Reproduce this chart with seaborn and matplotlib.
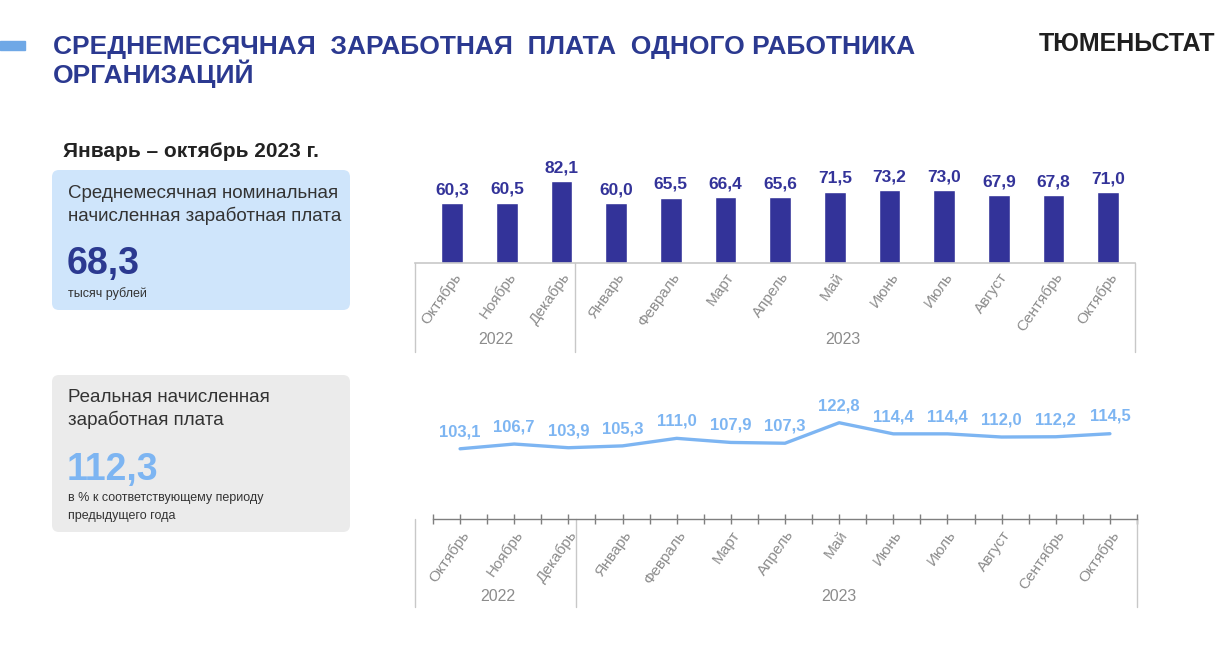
import matplotlib
matplotlib.use("Agg")
import matplotlib.pyplot as plt
import matplotlib.transforms as mtransforms
from matplotlib.patches import FancyBboxPatch, Rectangle
import seaborn as sns
import pandas as pd

# ---------------- data ----------------
months = ["Октябрь", "Ноябрь", "Декабрь", "Январь", "Февраль", "Март", "Апрель",
          "Май", "Июнь", "Июль", "Август", "Сентябрь", "Октябрь"]
years = [2022, 2022, 2022, 2023, 2023, 2023, 2023, 2023, 2023, 2023, 2023, 2023, 2023]
nominal_wage = [60.3, 60.5, 82.1, 60.0, 65.5, 66.4, 65.6, 71.5, 73.2, 73.0, 67.9, 67.8, 71.0]
real_wage = [103.1, 106.7, 103.9, 105.3, 111.0, 107.9, 107.3, 122.8, 114.4, 114.4, 112.0, 112.2, 114.5]
year_labels = ["2022", "2023"]

title_lines = ["СРЕДНЕМЕСЯЧНАЯ  ЗАРАБОТНАЯ  ПЛАТА  ОДНОГО РАБОТНИКА", "ОРГАНИЗАЦИЙ"]
brand_text = "ТЮМЕНЬСТАТ"
period_text = "Январь – октябрь 2023 г."
nominal_caption = ["Среднемесячная номинальная", "начисленная заработная плата"]
nominal_total = "68,3"
nominal_unit = "тысяч рублей"
real_caption = ["Реальная начисленная", "заработная плата"]
real_total = "112,3"
real_unit = ["в % к соответствующему периоду", "предыдущего года"]

# ---------------- style ----------------
sns.set_theme(style="white")
NARROW = ["Liberation Sans Narrow", "Liberation Sans", "DejaVu Sans"]
SANS = ["Liberation Sans", "DejaVu Sans"]
plt.rcParams["font.family"] = SANS

BAR_C = "#333399"
LINE_C = "#7DB5F2"
TITLE_C = "#2B3990"
GRAY = "#8C8C8C"
SEP = "#C8C8C8"
TXT = "#333333"

def fmt(v):
    return f"{v:.1f}".replace(".", ",")

df = pd.DataFrame({
    "key": [f"{m} {y}" for m, y in zip(months, years)],
    "idx": list(range(len(months))),
    "month": months,
    "year": years,
    "nominal": nominal_wage,
    "real": real_wage,
})

W, H = 1223, 648
fig = plt.figure(figsize=(W / 100, H / 100), dpi=100)
fig.patch.set_facecolor("white")
T = fig.dpi_scale_trans

def P(x, y):
    return (x / 100, (H - y) / 100)

def txt(x, y, s, **kw):
    fig.text(*P(x, y), s, transform=T, va="baseline", **kw)

# ---------------- header ----------------
fig.patches.append(Rectangle(P(0, 50), 0.25, 0.09, transform=T, color="#6FA8E6",
                             figure=fig))
txt(53, 54, title_lines[0], fontsize=19, fontweight="bold", color=TITLE_C, family=NARROW)
txt(53, 83, title_lines[1], fontsize=19, fontweight="bold", color=TITLE_C, family=NARROW)
txt(1215, 51, brand_text, fontsize=18, fontweight="bold", color="#1F1F1F",
    family=SANS, ha="right")
txt(63, 157, period_text, fontsize=15, fontweight="bold", color="#222222")

# ---------------- boxes ----------------
def box(x0, y0, x1, y1, color):
    p = FancyBboxPatch(P(x0, y1), (x1 - x0) / 100, (y1 - y0) / 100,
                       boxstyle="round,pad=0,rounding_size=0.07",
                       transform=T, facecolor=color, edgecolor="none", figure=fig)
    fig.patches.append(p)

box(52, 170, 350, 310, "#CFE5FB")
box(52, 375, 350, 532, "#EBEBEB")

txt(68, 198, nominal_caption[0], fontsize=13.5, color=TXT)
txt(68, 221, nominal_caption[1], fontsize=13.5, color=TXT)
txt(67, 274, nominal_total, fontsize=27, fontweight="bold", color=TITLE_C)
txt(68, 297, nominal_unit, fontsize=9, color=TXT)

txt(68, 402, real_caption[0], fontsize=13.5, color=TXT)
txt(68, 425, real_caption[1], fontsize=13.5, color=TXT)
txt(67, 480, real_total, fontsize=27, fontweight="bold", color=LINE_C)
txt(68, 501, real_unit[0], fontsize=9, color=TXT)
txt(68, 519, real_unit[1], fontsize=9, color=TXT)

# ---------------- bar chart ----------------
ax1 = fig.add_axes([415 / W, 1 - 263 / H, 720 / W, 100 / H])
sns.barplot(data=df, x="key", y="nominal", order=df["key"], color=BAR_C,
            width=0.4, saturation=1, ax=ax1)
ax1.set_xlim(-0.68, 12.49)
ax1.set_ylim(0, 100)
for i, v in enumerate(df["nominal"]):
    ax1.annotate(fmt(v), (i, v), xytext=(0, 4), textcoords="offset points",
                 ha="center", va="bottom", fontsize=12.5, fontweight="bold",
                 color=BAR_C, family=NARROW)
ax1.set_xlabel("")
ax1.set_ylabel("")
ax1.set_yticks([])
for s in ["top", "right", "left"]:
    ax1.spines[s].set_visible(False)
ax1.spines["bottom"].set_color(SEP)
ax1.spines["bottom"].set_linewidth(1.2)
ax1.set_xticks(df["idx"])
ax1.set_xticklabels(df["month"], rotation=55, ha="right", rotation_mode="anchor",
                    fontsize=11, color=GRAY, family=NARROW)
ax1.tick_params(axis="x", length=0, pad=5)
ax1.set_facecolor("none")

tr1 = mtransforms.blended_transform_factory(ax1.transData, ax1.transAxes)
for xs in [-0.68, 2.25, 12.49]:
    ax1.plot([xs, xs], [0, -0.89], transform=tr1, color=SEP, lw=1, clip_on=False)
ax1.text(0.79, -0.77, year_labels[0], transform=tr1, ha="center", va="center",
         fontsize=11.5, color=GRAY)
ax1.text(7.15, -0.77, year_labels[1], transform=tr1, ha="center", va="center",
         fontsize=11.5, color=GRAY)

# ---------------- line chart ----------------
ax2 = fig.add_axes([433 / W, 1 - 519 / H, 704 / W, 119 / H])
sns.lineplot(data=df, x="idx", y="real", color=LINE_C, linewidth=2.4, ax=ax2)
ax2.set_xlim(-0.5, 12.5)
ax2.set_ylim(50, 140)
for i, v in enumerate(df["real"]):
    ax2.annotate(fmt(v), (i, v), xytext=(0, 7), textcoords="offset points",
                 ha="center", va="bottom", fontsize=12, fontweight="bold",
                 color=LINE_C, family=NARROW)
ax2.set_xlabel("")
ax2.set_ylabel("")
ax2.set_yticks([])
for s in ["top", "right", "left"]:
    ax2.spines[s].set_visible(False)
ax2.spines["bottom"].set_color("#7F7F7F")
ax2.spines["bottom"].set_linewidth(1.0)
ax2.set_xticks(df["idx"])
ax2.set_xticks([i - 0.5 for i in range(len(months) + 1)], minor=True)
ax2.set_xticklabels(df["month"], rotation=55, ha="right", rotation_mode="anchor",
                    fontsize=11, color=GRAY, family=NARROW)
ax2.tick_params(axis="x", which="both", direction="inout", length=7, width=1,
                color="#7F7F7F", pad=3)
ax2.tick_params(axis="x", which="both", bottom=True)
ax2.set_facecolor("none")

tr2 = mtransforms.blended_transform_factory(ax2.transData, ax2.transAxes)
for xs in [-0.83, 2.14, 12.5]:
    ax2.plot([xs, xs], [0, -0.74], transform=tr2, color=SEP, lw=1, clip_on=False)
ax2.text(0.7, -0.65, year_labels[0], transform=tr2, ha="center", va="center",
         fontsize=11.5, color=GRAY)
ax2.text(7.0, -0.65, year_labels[1], transform=tr2, ha="center", va="center",
         fontsize=11.5, color=GRAY)

fig.savefig("out.png", dpi=100, facecolor="white")
